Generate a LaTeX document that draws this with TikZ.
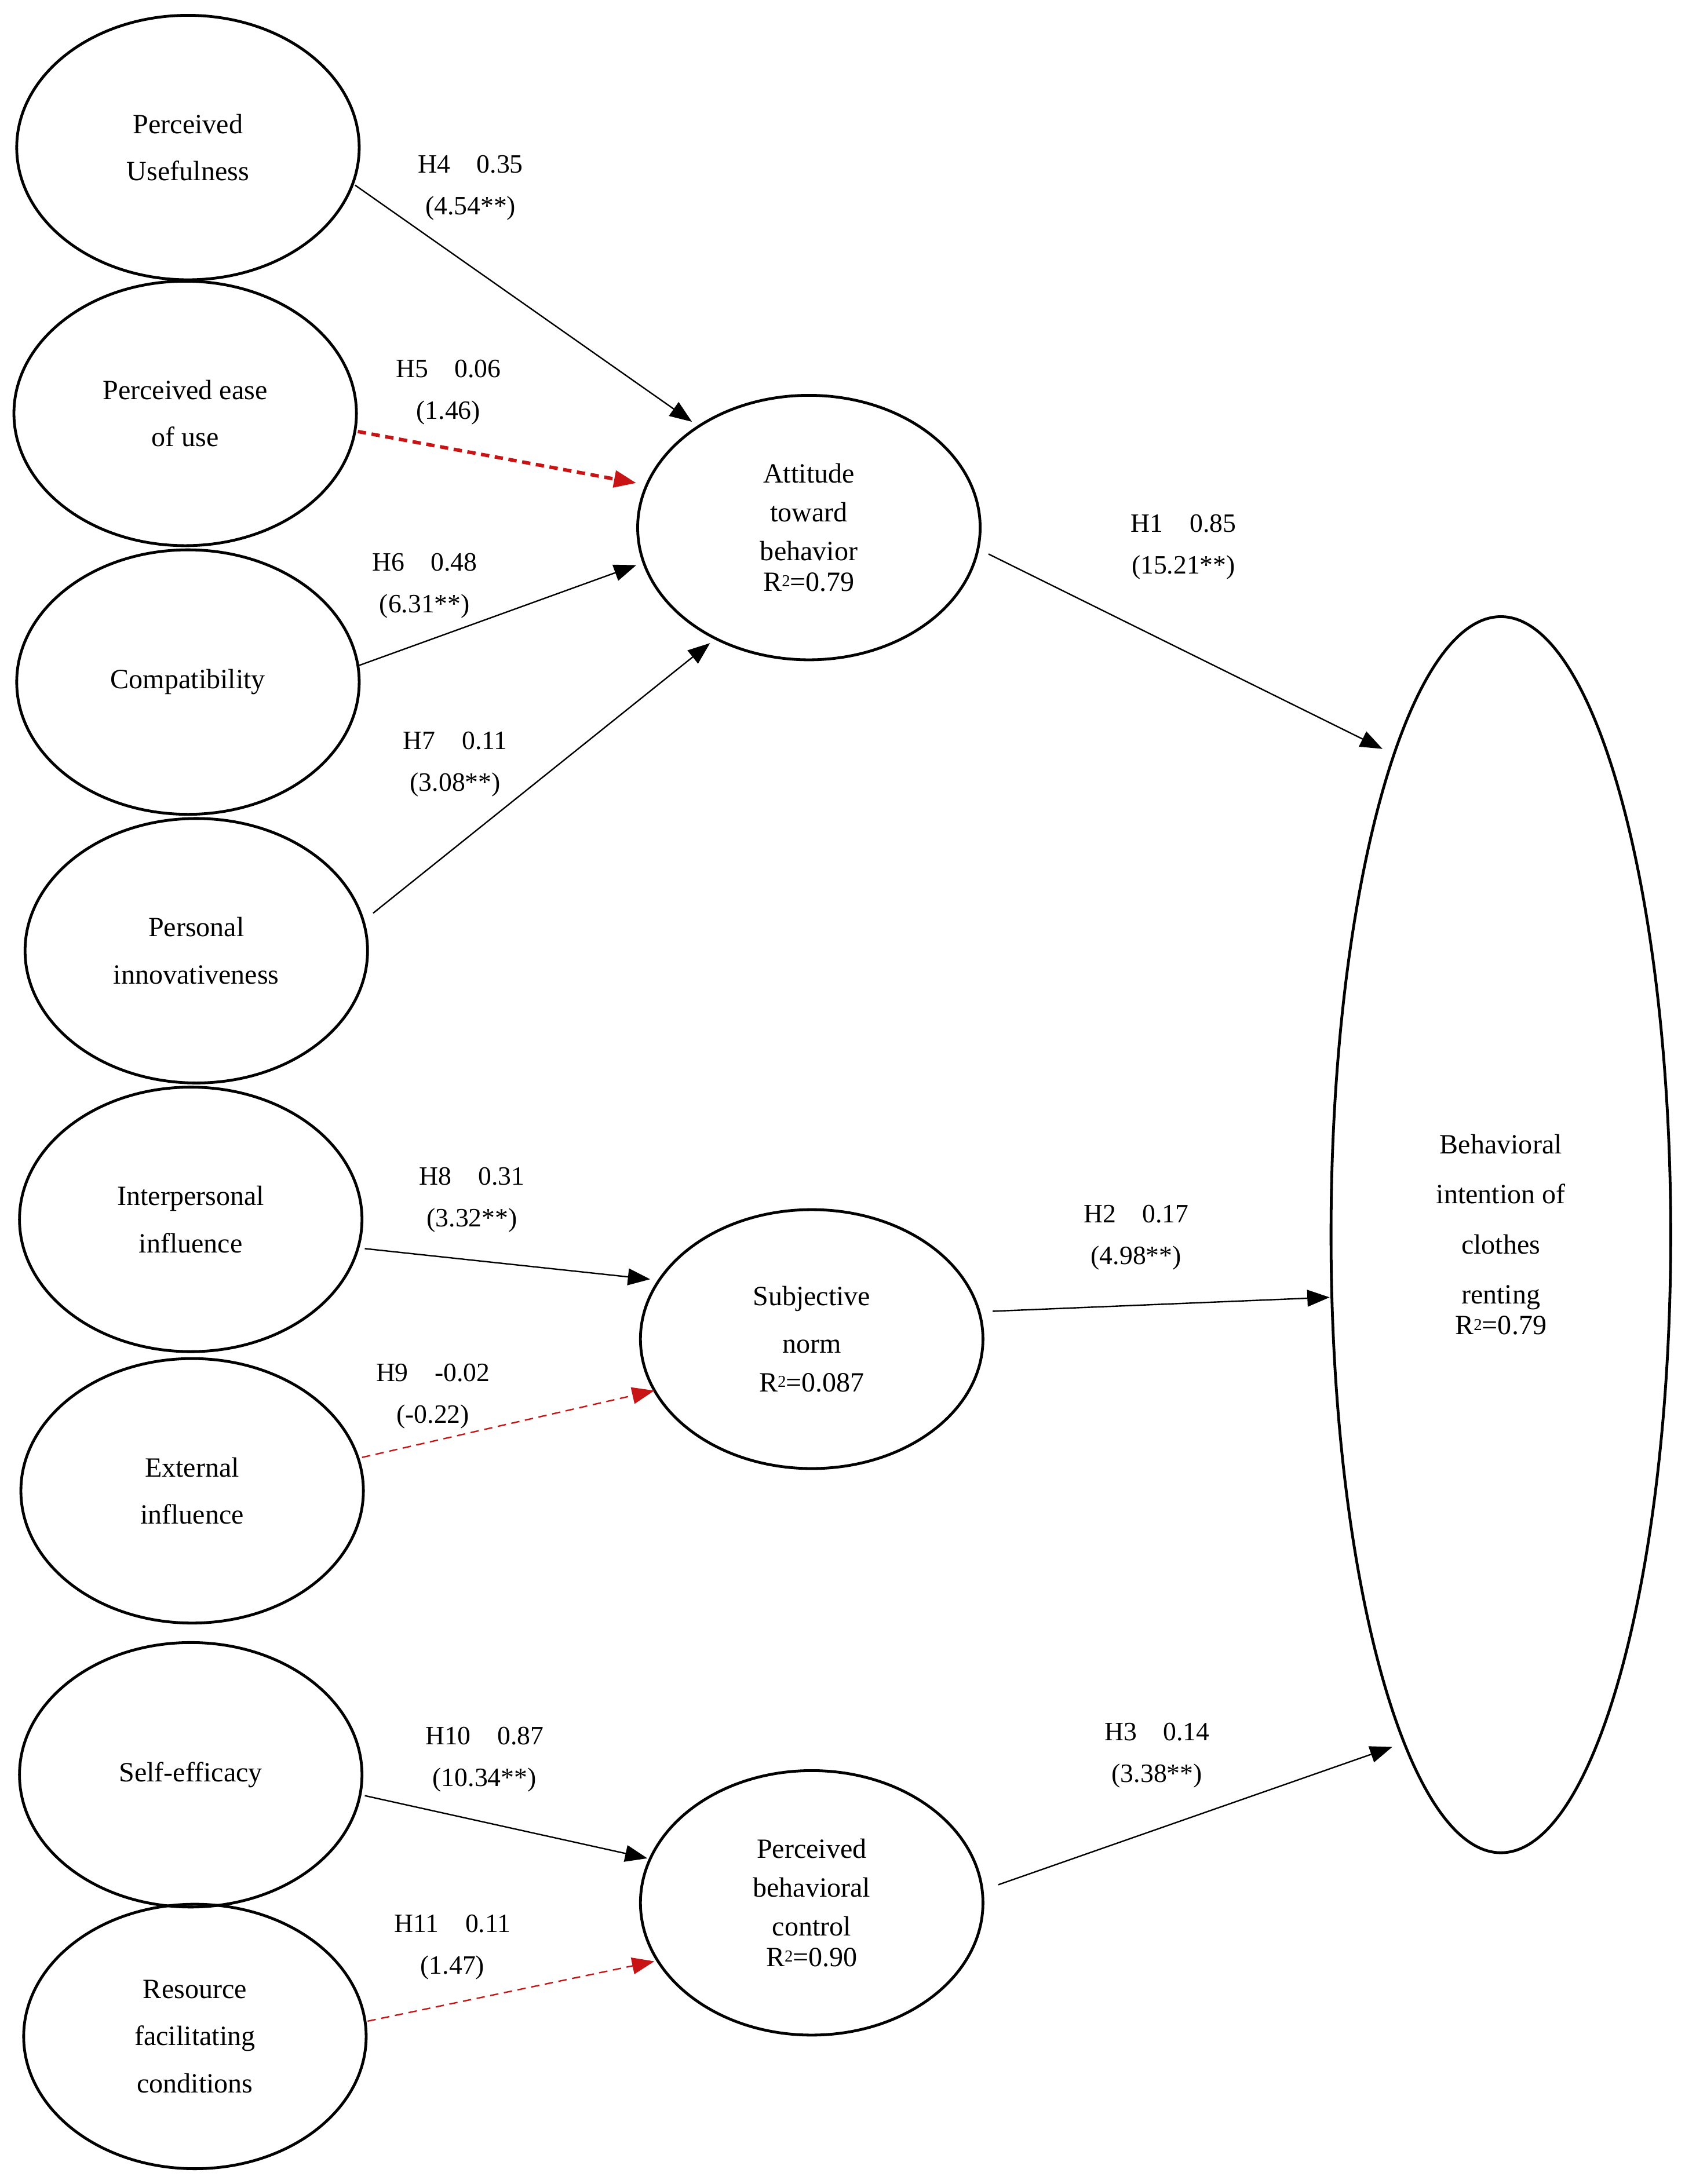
\documentclass[tikz,border=0pt]{standalone}
\usepackage{fontspec}
\setmainfont{Liberation Serif}
\usetikzlibrary{arrows.meta,shapes.geometric}
\newcommand{\sqr}{\raisebox{0.35ex}{\fontsize{12}{12}\selectfont 2}}
\begin{document}
\begin{tikzpicture}[x=1pt,y=-1pt,
 lat/.style={draw,line width=2pt,ellipse,inner sep=0pt,minimum width=246pt,minimum height=190pt,align=center,font=\fontsize{20}{34}\selectfont},
 lbl/.style={font=\fontsize{19}{22}\selectfont,align=center},
 arr/.style={line width=1pt,-{Triangle[length=16pt,width=12pt]}},
 ns/.style={arr,draw={rgb,255:red,200;green,20;blue,20},dashed,dash pattern=on 6pt off 4pt}]
\useasboundingbox (0,0) rectangle (1210,1569);
\node[lat] (pu) at (135,106) {Perceived\\Usefulness};
\node[lat] (pe) at (133,297) {Perceived ease\\of use};
\node[lat] (co) at (135,490) {Compatibility};
\node[lat] (pi) at (141,683) {Personal\\innovativeness};
\node[lat] (ip) at (137,876) {Interpersonal\\influence};
\node[lat] (ex) at (138,1071) {External\\influence};
\node[lat] (se) at (137,1275) {Self-efficacy};
\node[lat] (rf) at (140,1463) {Resource\\facilitating\\conditions};
\node[lat,font=\fontsize{20}{28}\selectfont] (at) at (581,379) {Attitude\\toward\\behavior\\[-6pt]R\sqr=0.79};
\node[lat,minimum height=186pt] (sn) at (583,962) {Subjective\\norm\\[-6pt]R\sqr=0.087};
\node[lat,font=\fontsize{20}{28}\selectfont] (pb) at (583,1367) {Perceived\\behavioral\\control\\[-6pt]R\sqr=0.90};
\node[lat,minimum width=244pt,minimum height=888pt,font=\fontsize{20}{36}\selectfont] (bi) at (1078,887) {Behavioral\\intention of\\clothes\\renting\\[-14pt]R\sqr=0.79};
% connector ends
\coordinate (pu-o) at (255,133); \coordinate (at-i1) at (497,303);
\coordinate (pe-o) at (257,310); \coordinate (at-i2) at (457,347);
\coordinate (co-o) at (258,478); \coordinate (at-i3) at (457,406);
\coordinate (pi-o) at (268,656); \coordinate (at-i4) at (510,462);
\coordinate (at-o) at (710,398); \coordinate (bi-i1) at (993,538);
\coordinate (ip-o) at (262,897); \coordinate (sn-i1) at (467,919);
\coordinate (ex-o) at (260,1047); \coordinate (sn-i2) at (470,999);
\coordinate (sn-o) at (713,942); \coordinate (bi-i2) at (955,932);
\coordinate (se-o) at (262,1290); \coordinate (pb-i1) at (465,1335);
\coordinate (rf-o) at (264,1452); \coordinate (pb-i2) at (470,1409);
\coordinate (pb-o) at (717,1354); \coordinate (bi-i3) at (1000,1255);
\draw[arr] (pu-o) -- (at-i1);
\draw[ns,line width=2.5pt] (pe-o) -- (at-i2);
\draw[arr] (co-o) -- (at-i3);
\draw[arr] (pi-o) -- (at-i4);
\draw[arr] (at-o) -- (bi-i1);
\draw[arr] (ip-o) -- (sn-i1);
\draw[ns] (ex-o) -- (sn-i2);
\draw[arr] (sn-o) -- (bi-i2);
\draw[arr] (se-o) -- (pb-i1);
\draw[ns] (rf-o) -- (pb-i2);
\draw[arr] (pb-o) -- (bi-i3);
\node[lbl] (l4) at (338,135) {H4\quad0.35\\[8pt](4.54**)};
\node[lbl] (l5) at (322,282) {H5\quad0.06\\[8pt](1.46)};
\node[lbl] (l6) at (305,421) {H6\quad0.48\\[8pt](6.31**)};
\node[lbl] (l7) at (327,549) {H7\quad0.11\\[8pt](3.08**)};
\node[lbl] (l1) at (850,393) {H1\quad0.85\\[8pt](15.21**)};
\node[lbl] (l8) at (339,862) {H8\quad0.31\\[8pt](3.32**)};
\node[lbl] (l9) at (311,1003) {H9\quad-0.02\\[8pt](-0.22)};
\node[lbl] (l2) at (816,889) {H2\quad0.17\\[8pt](4.98**)};
\node[lbl] (l10) at (348,1264) {H10\quad0.87\\[8pt](10.34**)};
\node[lbl] (l11) at (325,1399) {H11\quad0.11\\[8pt](1.47)};
\node[lbl] (l3) at (831,1261) {H3\quad0.14\\[8pt](3.38**)};
\end{tikzpicture}
\end{document}
